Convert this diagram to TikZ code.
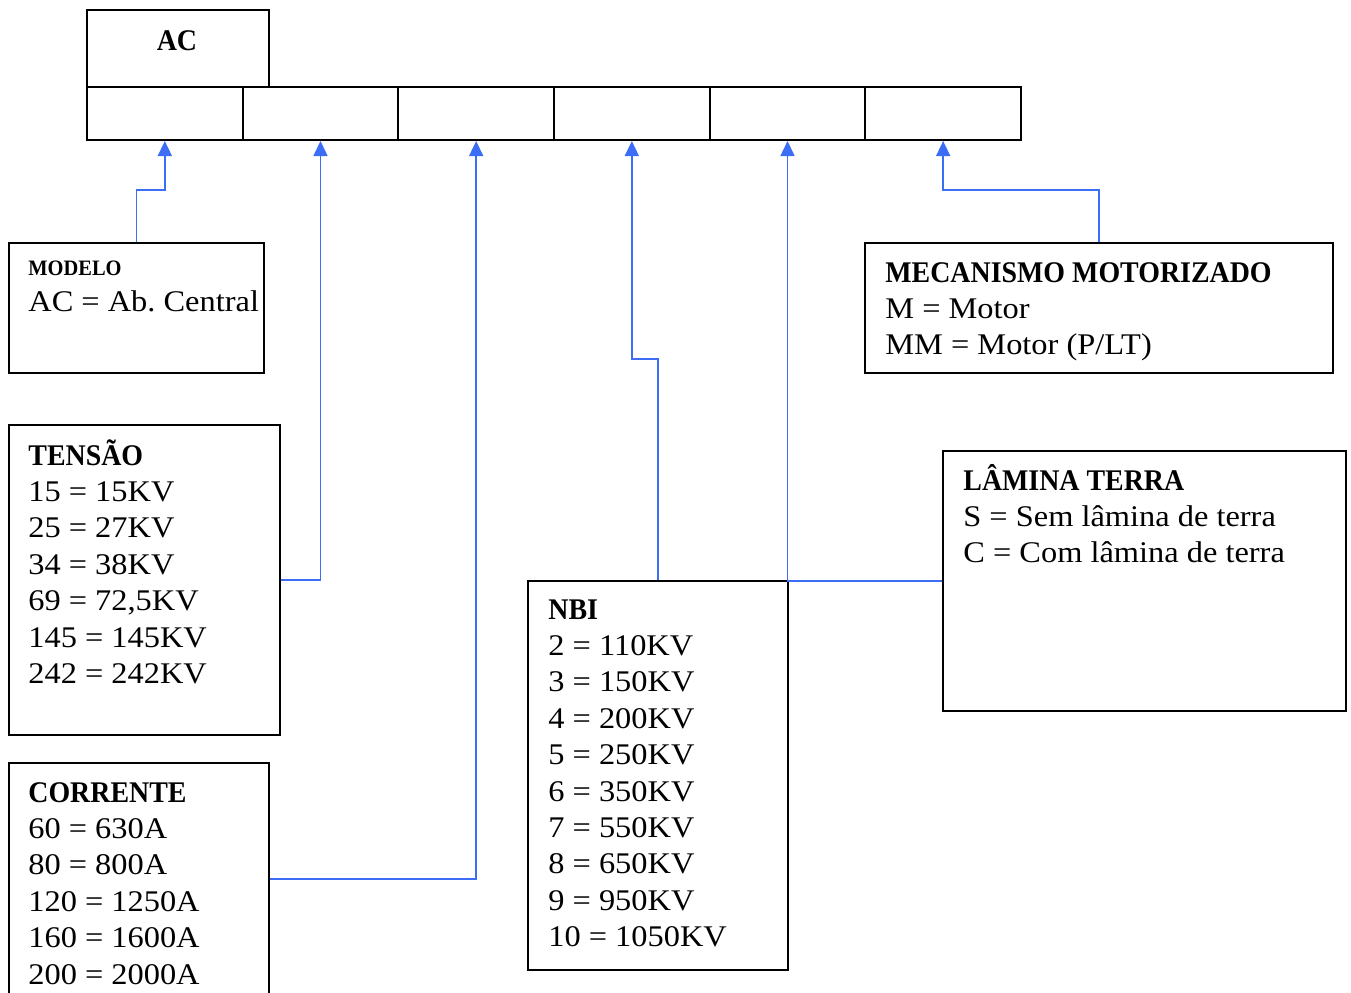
\documentclass[tikz,border=0pt]{standalone}
\usepackage{fontspec}
\setmainfont{Liberation Serif}[FakeStretch=1.08]
\newfontfamily\titlefont{Liberation Serif Bold}[FakeStretch=0.93]
\usepackage{xcolor}
\usetikzlibrary{arrows.meta,positioning,calc}

\definecolor{linkblue}{RGB}{60,110,245}
\frenchspacing
% first line of the lines sits on the node's base
\newcommand{\boxlines}[1]{\parbox[t]{8cm}{\raggedright #1}}

\begin{document}
\begin{tikzpicture}[
			x=0.5pt, y=-0.5pt,
			codebox/.style={
				draw,
				line width=1pt,
				anchor=north west,
				inner sep=0pt
			},
			cell/.style={
				codebox,
				minimum width=77.83pt,
				minimum height=26.5pt
			},
			txt/.style={
				anchor=base west,
				inner sep=0pt,
				font=\fontsize{15}{18.2}\selectfont
			},
			link/.style={
				draw=linkblue,
				line width=0.8pt,
				-{Triangle[length=7.5pt,width=7pt]}
			}
			]
			
			\clip (0,0) rectangle (1351,992);
			
			% Code header and its six fields
			\node[codebox, minimum width=91pt, minimum height=38.5pt] (ac) at (86,9) {};
			\node[txt, anchor=base] (acT) at (177,50) {\titlefont AC};
			\foreach \i in {1,...,6}
				\node[cell] (c\i) at ({86+155.67*(\i-1)},86) {};
			
			% Option boxes
			\node[codebox, minimum width=127.5pt, minimum height=65pt] (modelo) at (8,242) {};
			\node[codebox, minimum width=135.5pt, minimum height=155pt] (tensao) at (8,424) {};
			\node[codebox, minimum width=130pt, minimum height=116pt] (corrente) at (8,762) {};
			\node[codebox, minimum width=130pt, minimum height=194.5pt] (nbi) at (527,580) {};
			\node[codebox, minimum width=234pt, minimum height=65pt] (mecanismo) at (864,242) {};
			\node[codebox, minimum width=201.5pt, minimum height=130pt] (lamina) at (942,450) {};
			
			% Box texts
			\node[txt] (modeloT) at (28,275) {\boxlines{{\fontsize{11}{13}\selectfont\titlefont MODELO}\\ AC = Ab. Central}};
			\node[txt] (tensaoT) at (28,465) {\boxlines{{\titlefont TENSÃO}\\ 15 = 15KV\\ 25 = 27KV\\ 34 = 38KV\\ 69 = 72,5KV\\ 145 = 145KV\\ 242 = 242KV}};
			\node[txt] (correnteT) at (28,802) {\boxlines{{\titlefont CORRENTE}\\ 60 = 630A\\ 80 = 800A\\ 120 = 1250A\\ 160 = 1600A\\ 200 = 2000A}};
			\node[txt] (nbiT) at (548,619) {\boxlines{{\titlefont NBI}\\ 2 = 110KV\\ 3 = 150KV\\ 4 = 200KV\\ 5 = 250KV\\ 6 = 350KV\\ 7 = 550KV\\ 8 = 650KV\\ 9 = 950KV\\ 10 = 1050KV}};
			\node[txt] (mecanismoT) at (885,282) {\boxlines{{\titlefont MECANISMO MOTORIZADO}\\ M = Motor\\ MM = Motor (P/LT)}};
			\node[txt] (laminaT) at (963,490) {\boxlines{{\titlefont LÂMINA TERRA}\\ S = Sem lâmina de terra\\ C = Com lâmina de terra}};
			
			% Connectors up to the fields
			\draw[link] (modelo.north) -- ++(0,-52) -| (c1.south);
			\draw[link] (tensao.east) -| (c2.south);
			\draw[link] (corrente.east) -| (c3.south);
			\draw[link] (nbi.north) -- ++(0,-221) -| (c4.south);
			\draw[link] (lamina.west) -| (c5.south);
			\draw[link] (mecanismo.north) -- ++(0,-52) -| (c6.south);
			
		\end{tikzpicture}
\end{document}
